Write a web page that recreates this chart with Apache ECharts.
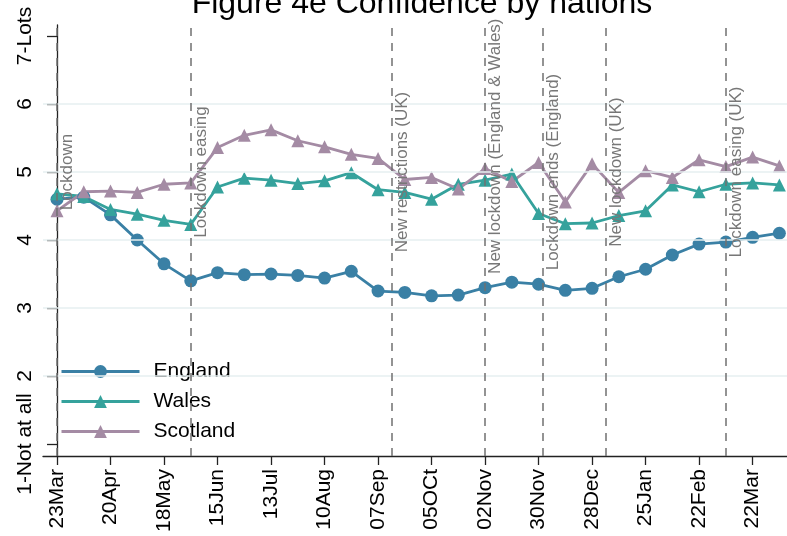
<!DOCTYPE html>
<html>
<head>
<meta charset="utf-8">
<script src="https://cdn.jsdelivr.net/npm/echarts@6/dist/echarts.min.js"></script>
<style>
  html, body { margin: 0; padding: 0; background: #fff; }
  #main { width: 787px; height: 536px; }
</style>
</head>
<body>
<div id="main"></div>
<script>
  // days since 23 Mar 2020, one wave every two weeks
  var days = [0, 14, 28, 42, 56, 70, 84, 98, 112, 126, 140, 154, 168, 182,
    196, 210, 224, 238, 252, 266, 280, 294, 308, 322, 336, 350, 364, 378]
  var england = [4.60, 4.63, 4.37, 4.00, 3.65, 3.40, 3.52, 3.49, 3.50, 3.48, 3.44, 3.54, 3.25, 3.23,
    3.18, 3.19, 3.30, 3.38, 3.35, 3.26, 3.29, 3.46, 3.57, 3.78, 3.94, 3.97, 4.04, 4.10]
  var wales = [4.68, 4.64, 4.45, 4.38, 4.29, 4.23, 4.78, 4.91, 4.88, 4.83, 4.87, 4.99, 4.74, 4.70,
    4.60, 4.82, 4.88, 4.97, 4.39, 4.24, 4.25, 4.36, 4.43, 4.81, 4.71, 4.82, 4.84, 4.81]
  var scotland = [4.43, 4.71, 4.72, 4.70, 4.82, 4.84, 5.36, 5.54, 5.62, 5.46, 5.37, 5.26, 5.20, 4.89,
    4.92, 4.75, 5.05, 4.86, 5.14, 4.56, 5.12, 4.70, 5.02, 4.92, 5.18, 5.08, 5.22, 5.09]

  var tickDays = [0, 28, 56, 84, 112, 140, 168, 196, 224, 252, 280, 308, 336, 364]
  var tickLabels = ['23Mar', '20Apr', '18May', '15Jun', '13Jul', '10Aug', '07Sep',
    '05OCt', '02Nov', '30Nov', '28Dec', '25Jan', '22Feb', '22Mar']

  var yTicks = [1, 2, 3, 4, 5, 6, 7]
  var yLabels = ['1-Not at all', '2', '3', '4', '5', '6', '7-Lots']
  var gridValues = [2, 3, 4, 5, 6]

  var eventDays = [0, 70, 175, 224, 254, 287, 350]
  var eventNames = ['Lockdown', 'Lockdown easing', 'New restrictions (UK)',
    'New lockdown (England & Wales)', 'Lockdown ends (England)', 'New lockdown (UK)', 'Lockdown easing (UK)']
  var eventLabelAt = [5, 5, 5, 5.38, 5, 5, 5]

  var font = 'Liberation Sans, Arial, sans-serif'

  function pairs (ys) {
    return days.map(function (d, i) { return [d, ys[i]] })
  }

  var refLines = []
  gridValues.forEach(function (v) {
    refLines.push({ yAxis: v, label: { show: false }, lineStyle: { color: '#e6eff1', width: 1.5, type: 'solid' } })
  })
  eventDays.forEach(function (d) {
    refLines.push({ xAxis: d, label: { show: false }, lineStyle: { color: '#707070', width: 1.5, type: [8, 7] } })
  })
  // invisible segments, only there to carry the rotated event names
  eventDays.forEach(function (d, i) {
    refLines.push([
      { name: eventNames[i], xAxis: d, yAxis: eventLabelAt[i] - 1, lineStyle: { color: 'rgba(0,0,0,0)' } },
      { xAxis: d, yAxis: eventLabelAt[i] + 1 }
    ])
  })

  var chart = echarts.init(document.getElementById('main'))
  chart.setOption({
    animation: false,
    title: {
      text: 'Figure 4e Confidence by nations',
      left: 417,
      top: -17,
      textAlign: 'center',
      textStyle: { fontFamily: font, fontSize: 32, fontWeight: 'normal', color: '#000' }
    },
    legend: {
      orient: 'vertical',
      left: 55,
      top: 356,
      itemWidth: 78,
      itemHeight: 16,
      itemGap: 9,
      lineStyle: { width: 3 },
      textStyle: { fontFamily: font, fontSize: 21, color: '#000', padding: [0, 0, 0, 9] },
      data: ['England', 'Wales', 'Scotland']
    },
    grid: { left: 43, right: 0, top: 25, bottom: 80, containLabel: false },
    xAxis: {
      type: 'value',
      min: -7.33,
      max: 382,
      splitLine: { show: false },
      axisLine: { lineStyle: { color: '#222', width: 1.3 } },
      axisTick: { length: 9, customValues: tickDays, lineStyle: { color: '#222', width: 1.3 } },
      axisLabel: {
        customValues: tickDays,
        rotate: 90,
        margin: 13,
        fontFamily: font,
        fontSize: 21,
        color: '#000',
        formatter: function (v) { return tickLabels[tickDays.indexOf(v)] }
      }
    },
    yAxis: {
      type: 'value',
      min: 0.824,
      max: 7.162,
      splitLine: { show: false },
      axisLine: { show: true, lineStyle: { color: '#222', width: 1.3 } },
      axisTick: { show: true, length: 10, customValues: yTicks, lineStyle: { color: '#222', width: 1.3 } },
      axisLabel: {
        customValues: yTicks,
        rotate: 90,
        margin: 7,
        fontFamily: font,
        fontSize: 21,
        color: '#000',
        formatter: function (v) { return yLabels[yTicks.indexOf(v)] }
      }
    },
    series: [
      {
        name: 'refs',
        type: 'line',
        data: [],
        z: 1,
        silent: true,
        markLine: {
          silent: true,
          symbol: ['none', 'none'],
          label: {
            show: true,
            position: 'insideMiddleBottom',
            distance: 2,
            formatter: '{b}',
            fontFamily: font,
            fontSize: 17,
            color: '#777'
          },
          data: refLines
        }
      },
      {
        name: 'England', type: 'line', data: pairs(england), z: 3,
        color: '#3a80a5',
        symbol: 'circle', symbolSize: 13,
        lineStyle: { width: 2.8 }
      },
      {
        name: 'Wales', type: 'line', data: pairs(wales), z: 3,
        color: '#35a29c',
        symbol: 'triangle', symbolSize: 13,
        lineStyle: { width: 2.8 }
      },
      {
        name: 'Scotland', type: 'line', data: pairs(scotland), z: 3,
        color: '#a48ba4',
        symbol: 'triangle', symbolSize: 13,
        lineStyle: { width: 2.8 }
      }
    ]
  })
</script>
</body>
</html>
